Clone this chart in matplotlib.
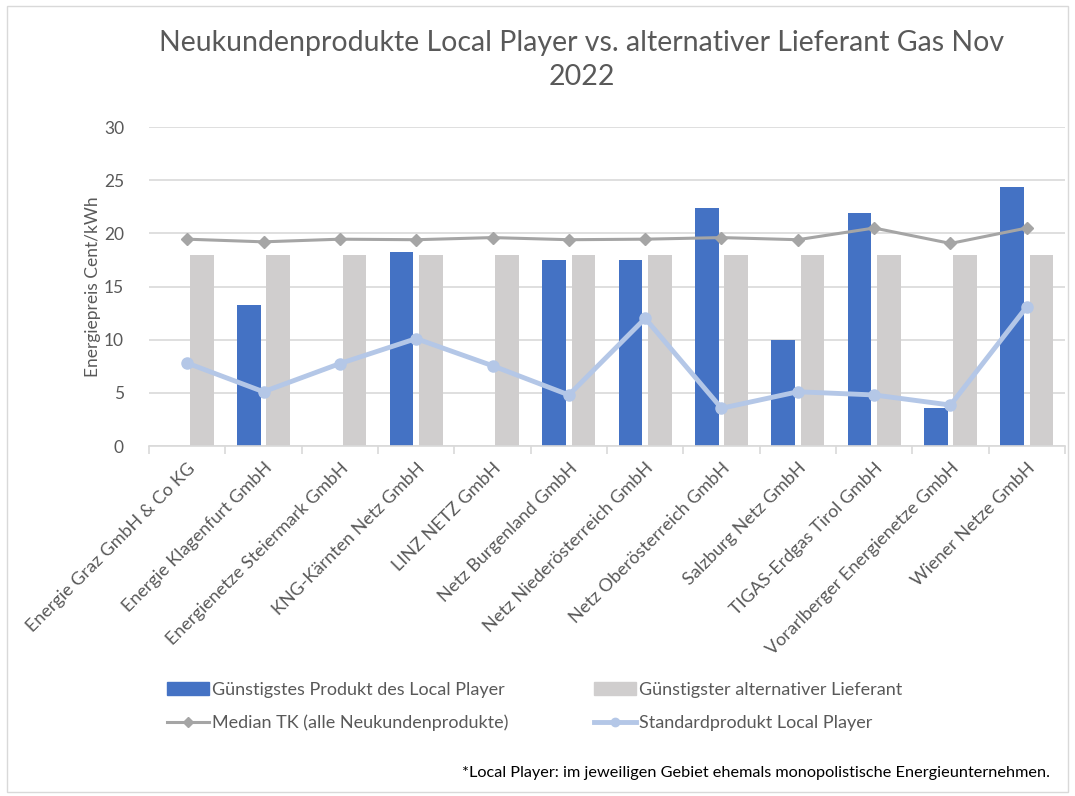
import matplotlib
matplotlib.use("Agg")
import matplotlib.pyplot as plt
from matplotlib.lines import Line2D
from matplotlib.patches import Patch, Rectangle
import numpy as np

plt.rcParams['font.family'] = ['Lato', 'DejaVu Sans']

categories = [
    "Energie Graz GmbH & Co KG",
    "Energie Klagenfurt GmbH",
    "Energienetze Steiermark GmbH",
    "KNG-Kärnten Netz GmbH",
    "LINZ NETZ GmbH",
    "Netz Burgenland GmbH",
    "Netz Niederösterreich GmbH",
    "Netz Oberösterreich GmbH",
    "Salzburg Netz GmbH",
    "TIGAS-Erdgas Tirol GmbH",
    "Vorarlberger Energienetze GmbH",
    "Wiener Netze GmbH",
]
local_player = [np.nan, 13.3, np.nan, 18.2, np.nan, 17.5, 17.5, 22.4, 10.0, 21.9, 3.6, 24.4]
alternativ = [18.0] * 12
median_tk = [19.45, 19.2, 19.45, 19.4, 19.6, 19.4, 19.45, 19.6, 19.4, 20.5, 19.05, 20.5]
standard_lp = [7.8, 5.1, 7.75, 10.1, 7.55, 4.8, 12.0, 3.55, 5.1, 4.8, 3.85, 13.1]

title = "Neukundenprodukte Local Player vs. alternativer Lieferant Gas Nov\n2022"
ylabel = "Energiepreis Cent/kWh"
labels = ["Günstigstes Produkt des Local Player", "Günstigster alternativer Lieferant",
          "Median TK (alle Neukundenprodukte)", "Standardprodukt Local Player"]
footnote = "*Local Player: im jeweiligen Gebiet ehemals monopolistische Energieunternehmen."

W, H = 1075, 796
fig = plt.figure(figsize=(W / 100, H / 100), dpi=100)
ax = fig.add_axes([149 / W, 1 - 446 / H, (1065 - 149) / W, (446 - 127) / H])

grey_txt = "#595959"
x = np.arange(len(categories))
bw = 0.31
off = 0.19
ax.bar(x - off, local_player, bw, color="#4472C4", zorder=2)
ax.bar(x + off, alternativ, bw, color="#D0CECE", zorder=2)
ax.plot(x, median_tk, color="#A5A5A5", lw=2.2, marker="D", ms=6, zorder=3)
ax.plot(x, standard_lp, color="#B4C7E7", lw=3.5, marker="o", ms=8, zorder=4)

ax.set_xlim(-0.5, len(categories) - 0.5)
ax.set_ylim(0, 30)
ax.set_yticks(range(0, 31, 5))
ax.yaxis.grid(True, color="#D9D9D9", lw=1.2, zorder=0)
ax.set_axisbelow(True)
for s in ["left", "right", "top"]:
    ax.spines[s].set_visible(False)
ax.spines["bottom"].set_color("#D9D9D9")
ax.spines["bottom"].set_linewidth(1.2)
ax.tick_params(axis="y", length=0, labelsize=12.5, labelcolor=grey_txt, pad=18)
ax.set_xticks(x)
ax.set_xticklabels(categories, rotation=45, ha="right", rotation_mode="anchor",
                   fontsize=13, color=grey_txt)
ax.tick_params(axis="x", length=0, pad=10)
ax.set_xticks(np.arange(-0.5, len(categories)), minor=True)
ax.tick_params(axis="x", which="minor", length=6, color="#D9D9D9", width=1.2)
ax.set_ylabel(ylabel, fontsize=12.5, color=grey_txt, labelpad=2)

fig.text(582 / W, 1 - 60 / H, title, ha="center", va="center", fontsize=20.5,
         color=grey_txt, linespacing=1.4)

h_blue = Patch(color="#4472C4")
h_grey = Patch(color="#D0CECE")
h_med = Line2D([], [], color="#A5A5A5", lw=2.2, marker="D", ms=5)
h_std = Line2D([], [], color="#B4C7E7", lw=3.5, marker="o", ms=6)
common = dict(loc="center left", frameon=False, fontsize=13, labelcolor=grey_txt,
              handlelength=2.35, handletextpad=0.15, labelspacing=0.95, borderpad=0,
              borderaxespad=0)
leg1 = fig.legend([h_blue, h_med], [labels[0], labels[2]],
                  bbox_to_anchor=(167 / W, 1 - 706.5 / H), **common)
leg2 = fig.legend([h_grey, h_std], [labels[1], labels[3]],
                  bbox_to_anchor=(594 / W, 1 - 706.5 / H), **common)

fig.text(1050 / W, 1 - 773 / H, footnote, ha="right", va="center", fontsize=11.7, color="black")

fig.add_artist(Rectangle((7 / W, 4 / H), (1068 - 7) / W, (790 - 4) / H,
                         transform=fig.transFigure, fill=False, edgecolor="#D9D9D9", lw=1))

fig.savefig("out.png", dpi=100)
